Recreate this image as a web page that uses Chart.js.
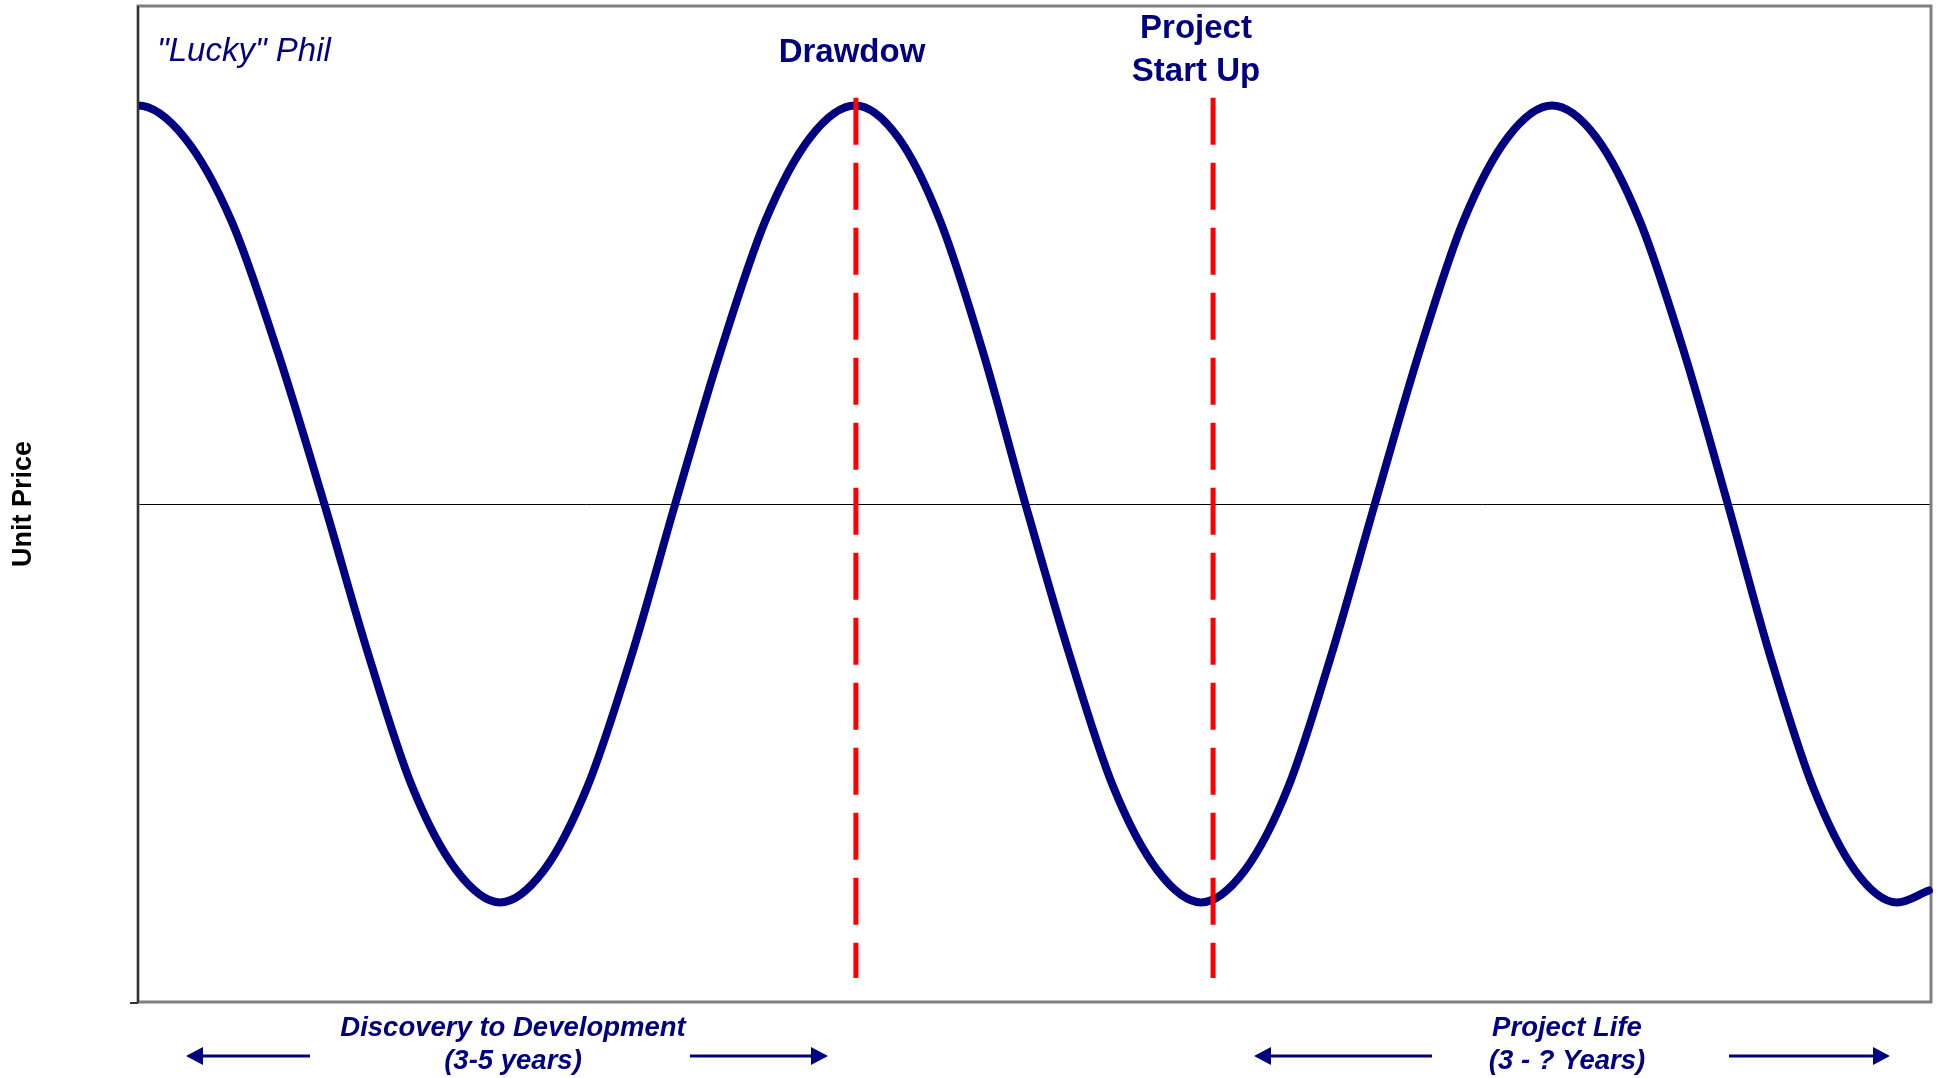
<!DOCTYPE html>
<html>
<head>
<meta charset="utf-8">
<title>Unit Price cycle</title>
<script src="https://cdn.jsdelivr.net/npm/chart.js@4.4.1/dist/chart.umd.min.js"></script>
<style>
  html, body { margin: 0; padding: 0; background: #fff; }
  canvas { display: block; }
</style>
</head>
<body>
<canvas id="cycle-chart" width="1942" height="1078"></canvas>
<script>
// price cycle (x in "time" units, y in relative price)
// first point sits just left of the axis so the curve leaves the axis flat at the peak
const cycleX = [-6.6, 0, 6.6, 13.3, 19.9, 26.5, 32.8, 39.0, 45.3, 51.5, 57.7, 63.9, 70.2, 76.4,
  82.8, 89.2, 95.6, 102.0, 108.1, 114.1, 120.2, 126.2, 132.5, 138.7, 145.0, 151.2,
  157.4, 163.6, 169.7, 175.9, 182.2, 188.5, 194.8, 201.1, 207.4, 213.6, 219.9, 226.1,
  232.1, 238.2, 244.2, 250.2, 254.7];
const cycleY = [0.92, 1.0, 0.92, 0.71, 0.38, 0.0, -0.38, -0.71, -0.92, -1.0, -0.92, -0.71, -0.38, 0.0,
  0.38, 0.71, 0.92, 1.0, 0.92, 0.71, 0.38, 0.0, -0.38, -0.71, -0.92, -1.0,
  -0.92, -0.71, -0.38, 0.0, 0.38, 0.71, 0.92, 1.0, 0.92, 0.71, 0.38, 0.0,
  -0.38, -0.71, -0.92, -1.0, -0.97];

// vertical marker lines (Drawdow, Project Start Up)
const markerX = [102.1, 152.9];
const markerTop = 1.02;
const markerBottom = -1.19;

const yMin = -1.25;
const yMax = 1.25;
const xMax = 255;

const navy = '#000080';
const textFont = '"Liberation Sans", Arial, Helvetica, sans-serif';

function arrow(ctx, x1, x2, y, dir) {
  // dir -1 = head at x1 pointing left, 1 = head at x2 pointing right
  const head = 17, half = 9;
  ctx.strokeStyle = navy;
  ctx.fillStyle = navy;
  ctx.lineWidth = 3;
  ctx.beginPath();
  if (dir < 0) {
    ctx.moveTo(x1 + head - 2, y); ctx.lineTo(x2, y);
  } else {
    ctx.moveTo(x1, y); ctx.lineTo(x2 - head + 2, y);
  }
  ctx.stroke();
  ctx.beginPath();
  if (dir < 0) {
    ctx.moveTo(x1, y); ctx.lineTo(x1 + head, y - half); ctx.lineTo(x1 + head, y + half);
  } else {
    ctx.moveTo(x2, y); ctx.lineTo(x2 - head, y - half); ctx.lineTo(x2 - head, y + half);
  }
  ctx.closePath();
  ctx.fill();
}

const framePlugin = {
  id: 'frame',
  beforeDatasetsDraw(chart) {
    const { ctx, chartArea: a } = chart;
    ctx.save();
    ctx.strokeStyle = '#808080';
    ctx.lineWidth = 3;
    ctx.strokeRect(a.left, a.top, a.right - a.left, a.bottom - a.top);
    ctx.restore();
  },
  afterDatasetsDraw(chart) {
    const { ctx, chartArea: a } = chart;
    ctx.save();
    ctx.strokeStyle = '#333333';
    ctx.lineWidth = 2;
    ctx.beginPath();
    ctx.moveTo(a.left, a.top);
    ctx.lineTo(a.left, a.bottom + 1);
    ctx.moveTo(a.left - 8, a.bottom + 1);
    ctx.lineTo(a.left, a.bottom + 1);
    ctx.stroke();
    ctx.restore();
  },
  afterDraw(chart) {
    const ctx = chart.ctx;
    ctx.save();
    ctx.fillStyle = navy;
    ctx.textBaseline = 'alphabetic';

    ctx.textAlign = 'left';
    ctx.font = 'italic 33px ' + textFont;
    ctx.fillText('"Lucky" Phil', 157, 61);

    ctx.textAlign = 'center';
    ctx.font = 'bold 33px ' + textFont;
    ctx.fillText('Drawdow', 852, 62);
    ctx.fillText('Project', 1196, 38);
    ctx.fillText('Start Up', 1196, 81);

    ctx.font = 'italic bold 27.5px ' + textFont;
    ctx.fillText('Discovery to Development', 513, 1036);
    ctx.fillText('(3-5 years)', 513, 1069);
    ctx.fillText('Project Life', 1567, 1036);
    ctx.fillText('(3 - ? Years)', 1567, 1069);

    arrow(ctx, 186, 310, 1056, -1);
    arrow(ctx, 690, 828, 1056, 1);
    arrow(ctx, 1254, 1432, 1056, -1);
    arrow(ctx, 1729, 1890, 1056, 1);
    ctx.restore();
  }
};

const markerSets = markerX.map(x => ({
  data: [{ x: x, y: markerTop }, { x: x, y: markerBottom }],
  borderColor: '#ff0000',
  borderWidth: 5,
  borderDash: [47, 18],
  borderCapStyle: 'butt',
  pointRadius: 0,
  fill: false,
  order: 1
}));

new Chart(document.getElementById('cycle-chart'), {
  type: 'line',
  data: {
    datasets: [
      ...markerSets,
      {
        data: cycleX.map((x, i) => ({ x: x, y: cycleY[i] })),
        borderColor: navy,
        borderWidth: 8,
        borderCapStyle: 'round',
        borderJoinStyle: 'round',
        cubicInterpolationMode: 'monotone',
        pointRadius: 0,
        fill: false,
        clip: { left: 0, top: 10, right: 10, bottom: 10 },
        order: 2
      }
    ]
  },
  options: {
    responsive: false,
    animation: false,
    layout: { padding: { top: 6, right: 11, bottom: 76, left: 0 } },
    plugins: {
      legend: { display: false },
      tooltip: { enabled: false },
      title: { display: false }
    },
    scales: {
      x: {
        type: 'linear',
        min: 0,
        max: xMax,
        display: false
      },
      y: {
        type: 'linear',
        min: yMin,
        max: yMax,
        ticks: { display: false, stepSize: 1.25 },
        grid: {
          drawTicks: false,
          color: c => (c.tick && c.tick.value === 0 ? '#000000' : 'rgba(0,0,0,0)'),
          lineWidth: 1
        },
        border: { display: false },
        title: {
          display: true,
          text: 'Unit Price',
          color: '#000000',
          font: { family: textFont, size: 27, weight: 'bold', lineHeight: 1 },
          padding: { top: 10, bottom: 0 }
        },
        afterFit(scale) { scale.width = 138; }
      }
    }
  },
  plugins: [framePlugin]
});
</script>
</body>
</html>
